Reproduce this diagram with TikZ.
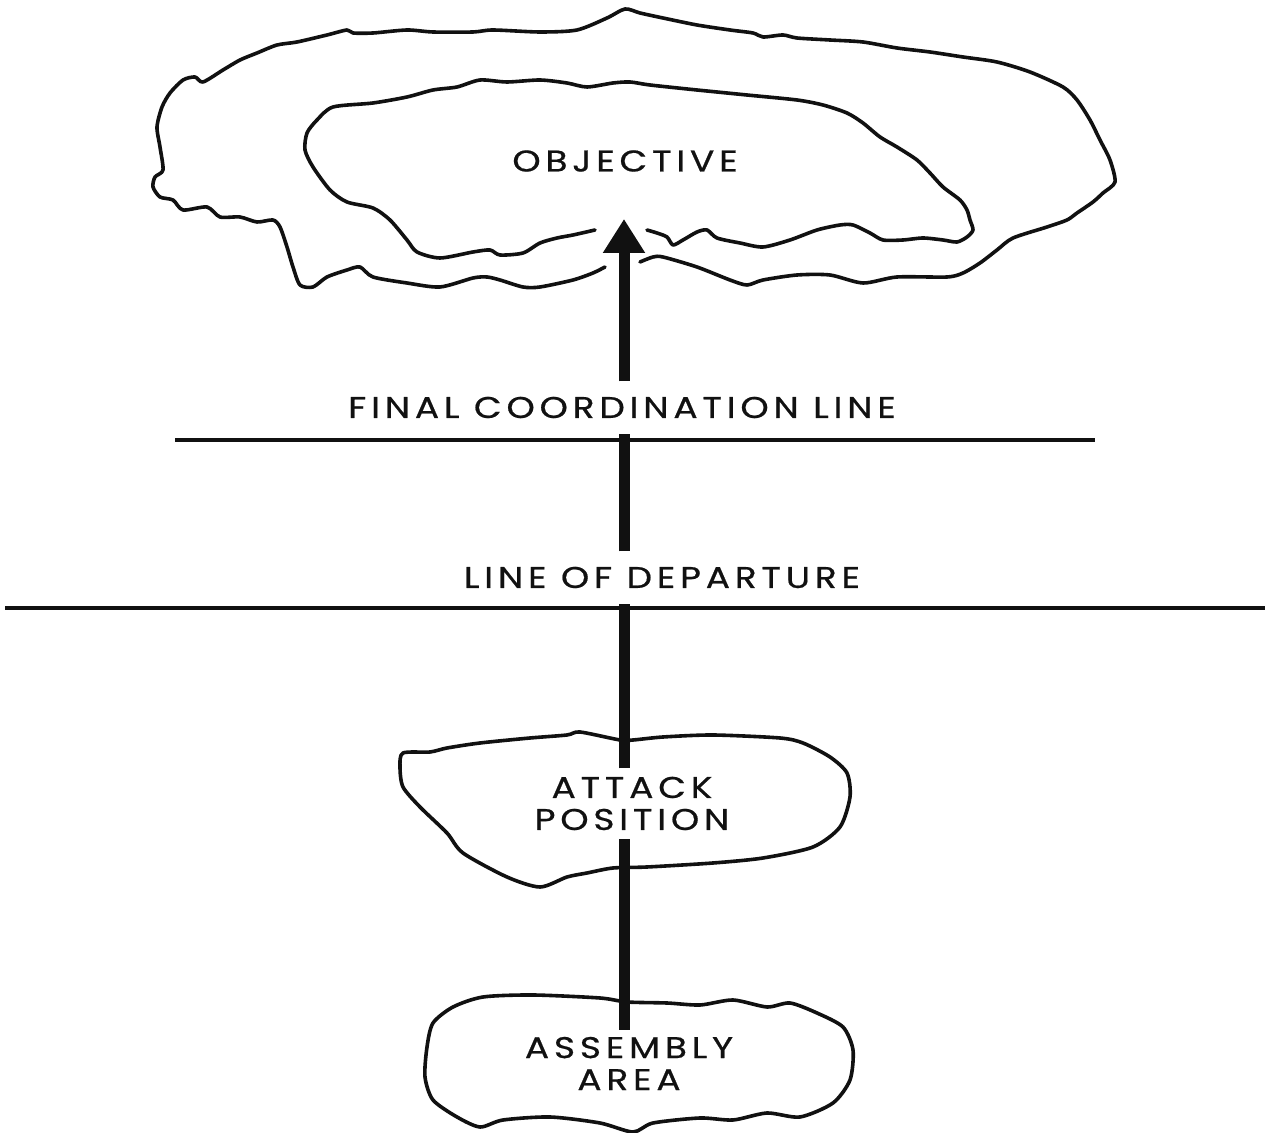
\documentclass[tikz,border=0pt]{standalone}
\usepackage{fontspec}
\usepackage{tikz}
\usetikzlibrary{arrows.meta}
\newfontfamily\planfont{Poppins}[LetterSpace=16,FakeStretch=1.2,FakeBold=0.6]
\definecolor{AttackInk}{HTML}{111111}
\definecolor{AttackPaper}{HTML}{FFFFFF}

\begin{document}
\begin{tikzpicture}[x=0.5pt,y=-0.5pt,
    zoneline/.style={AttackInk,line width=1.8pt,line join=round,line cap=round},
    phaseline/.style={AttackInk,line width=1.9pt},
    thrust/.style={AttackInk,line width=5.5pt},
    tagtext/.style={text=AttackInk,font=\fontsize{15}{16}\planfont,align=center,inner xsep=0pt}]
  \useasboundingbox[fill=AttackPaper] (0,0) rectangle (1271,1133);

  % objective: outer and inner ground, both open where the arrow enters
  \draw[zoneline] plot[smooth,tension=0.45] coordinates {
    (640,262) (653,257) (663,257) (697,267) (730,280) (747,285) (763,280) (797,275) (830,275)
    (863,283) (897,277) (947,277) (963,273) (980,263) (997,250) (1013,238) (1047,227) (1067,220)
    (1077,213) (1093,202) (1103,193) (1115,182) (1110,160) (1100,140) (1090,120) (1077,100)
    (1063,87) (1030,72) (997,62) (963,57) (930,52) (897,48) (863,42) (830,40) (797,38) (783,35)
    (763,37) (753,33) (730,30) (697,25) (663,18) (640,13) (625,9) (607,18) (577,30) (540,32)
    (493,30) (473,32) (433,32) (407,30) (373,33) (353,33) (347,30) (327,35) (297,42) (277,45)
    (257,53) (240,60) (223,70) (203,82) (195,77) (183,80) (170,93) (162,107) (157,127) (160,147)
    (163,170) (155,177) (153,187) (160,197) (173,200) (183,210) (207,207) (220,217) (240,217)
    (257,222) (273,220) (280,227) (287,247) (293,267) (300,285) (313,287) (327,277) (347,270)
    (360,267) (373,277) (407,283) (440,287) (473,278) (487,277) (500,280) (523,287) (540,287)
    (573,280) (593,273) (605,267)};
  \draw[zoneline] plot[smooth,tension=0.45] coordinates {
    (647,230) (657,233) (667,237) (673,245) (683,240) (697,232) (707,230) (717,238) (740,243)
    (763,247) (790,240) (817,230) (840,225) (853,225) (870,233) (883,240) (903,240) (923,238)
    (943,240) (957,242) (967,237) (973,230) (970,220) (967,210) (960,200) (943,187) (930,173)
    (917,160) (897,147) (880,137) (863,123) (847,113) (823,105) (797,100) (747,95) (697,90)
    (650,85) (630,82) (613,83) (587,87) (567,83) (540,80) (507,82) (480,80) (457,87) (433,90)
    (407,97) (373,103) (333,107) (317,120) (307,133) (305,150) (313,167) (330,190) (347,202)
    (373,208) (390,220) (407,240) (417,252) (440,258) (473,252) (490,250) (500,255) (523,253)
    (540,243) (557,238) (573,235) (595,230)};
  \node[tagtext] (obj) at (625,161) {OBJECTIVE};

  % control lines
  \draw[phaseline] (175,440) -- (1095,440);
  \node[tagtext,inner ysep=7.5pt] (fcl) at (622,407.5) {FINAL COORDINATION LINE};
  \draw[phaseline] (5,608) -- (1265,608);
  \node[tagtext,inner ysep=7.5pt] (lod) at (662,577.5) {LINE OF DEPARTURE};

  % attack position
  \draw[zoneline] plot[smooth cycle,tension=0.45] coordinates {
    (620,740) (580,732) (567,735) (530,738) (480,743) (447,748) (430,752) (403,753) (400,767)
    (403,787) (420,807) (447,833) (463,853) (507,877) (540,887) (567,877) (587,873) (613,868)
    (647,867) (713,863) (763,858) (813,847) (840,827) (850,797) (847,773) (830,757) (803,743)
    (780,738) (713,735) (663,737) (633,740)};
  \node[tagtext,inner ysep=4pt] (atk) at (632,803.5) {ATTACK\\POSITION};

  % assembly area
  \draw[zoneline] plot[smooth cycle,tension=0.45] coordinates {
    (627,1002) (600,998) (533,995) (483,997) (453,1007) (433,1023) (427,1047) (425,1077)
    (433,1100) (457,1117) (480,1127) (503,1120) (550,1117) (600,1123) (633,1132) (653,1123)
    (700,1118) (733,1120) (767,1113) (800,1117) (833,1103) (850,1080) (853,1050) (843,1027)
    (817,1013) (790,1003) (767,1007) (733,1000) (700,1005) (667,1003)};
  \node[tagtext,inner ysep=3.5pt] (asm) at (629,1063.5) {ASSEMBLY\\AREA};

  % line of advance
  \coordinate (axis) at (624,0);
  \coordinate (tip) at (624,219);
  \draw[thrust] (axis |- asm.north) -- (axis |- atk.south);
  \draw[thrust] (axis |- atk.north) -- (axis |- lod.south);
  \draw[thrust] (axis |- lod.north) -- (axis |- fcl.south);
  \draw[thrust,-{Triangle[width=20pt,length=17pt]}] (axis |- fcl.north) -- (tip);
\end{tikzpicture}
\end{document}
